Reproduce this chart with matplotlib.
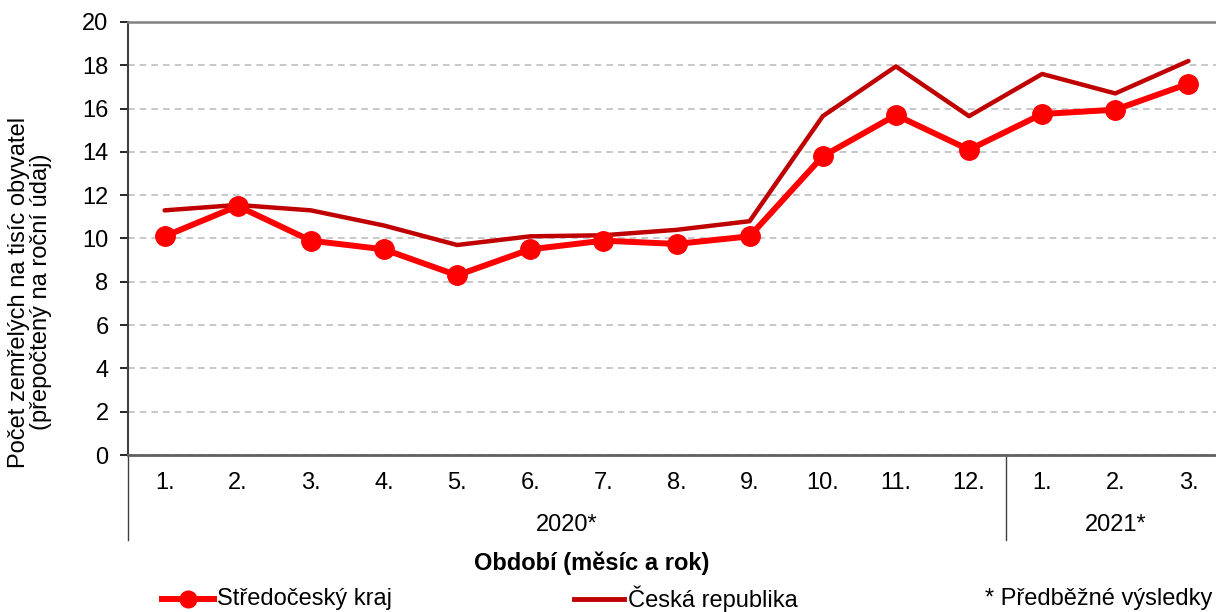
import matplotlib
matplotlib.use('Agg')
from matplotlib import pyplot as plt
from matplotlib.lines import Line2D

plt.rcParams['font.family'] = ['Liberation Sans', 'DejaVu Sans']

months = ['1.', '2.', '3.', '4.', '5.', '6.', '7.', '8.', '9.', '10.', '11.', '12.', '1.', '2.', '3.']
years = ['2020*', '2021*']
year_counts = [12, 3]
stredocesky = [10.1, 11.5, 9.9, 9.5, 8.3, 9.5, 9.9, 9.75, 10.1, 13.8, 15.7, 14.1, 15.75, 15.95, 17.15]
cr = [11.3, 11.55, 11.3, 10.6, 9.7, 10.1, 10.15, 10.4, 10.8, 15.65, 17.95, 15.65, 17.6, 16.7, 18.2]

fs = 17
fig = plt.figure(figsize=(12.16, 6.12), dpi=100)
ax = fig.add_axes([128/1216, 1-455/612, 1097/1216, 433/612])

x = list(range(len(months)))
ax.plot(x, cr, color='#C00000', lw=3.2, solid_capstyle='round', zorder=3)
ax.plot(x, stredocesky, color='#FF0000', lw=4.3, marker='o', ms=14, zorder=4)

ax.set_xlim(-0.5, len(months)-0.5)
ax.set_ylim(0, 20)
ax.set_yticks(range(0, 21, 2))
ax.tick_params(axis='y', labelsize=fs, length=6, width=1.2, direction='out', pad=8)
ax.set_xticks(x)
ax.set_xticklabels(months)
ax.tick_params(axis='x', labelsize=fs, length=0, pad=12)
ax.yaxis.grid(True, linestyle=(0, (4, 3)), color='#BFBFBF', lw=1.2)
ax.set_axisbelow(True)

ax.spines['right'].set_visible(False)
ax.spines['top'].set_color('#808080')
ax.spines['top'].set_linewidth(1.8)
ax.spines['left'].set_color('#404040')
ax.spines['left'].set_linewidth(1.5)
ax.spines['bottom'].set_color('#606060')
ax.spines['bottom'].set_linewidth(2)

# second category level (years)
trans = ax.get_xaxis_transform()
ybot = -(540-455)/433
start = -0.5
ax.add_line(Line2D([start, start], [0, ybot], transform=trans, color='#404040', lw=1, clip_on=False))
for yr, n in zip(years, year_counts):
    end = start + n
    ax.text((start+end)/2, -(525-455)/433, yr, transform=trans, ha='center', va='center', fontsize=fs)
    ax.add_line(Line2D([end, end], [0, ybot], transform=trans, color='#404040', lw=1, clip_on=False))
    start = end

fig.text(592/1216, 1-563/612, 'Období (měsíc a rok)', ha='center', va='center', fontsize=fs, fontweight='bold')
fig.text(30/1216, 1-292/612, 'Počet zemřelých na tisíc obyvatel\n(přepočtený na roční údaj)',
         rotation=90, ha='center', va='center', fontsize=fs, linespacing=1.0)

# legend row
ly = 1-599/612
fig.add_artist(Line2D([162/1216, 214/1216], [ly, ly], color='#FF0000', lw=4.3))
fig.add_artist(Line2D([188/1216], [ly], color='#FF0000', marker='o', ms=12, lw=0))
fig.text(217/1216, ly, 'Středočeský kraj', ha='left', va='center', fontsize=fs)
fig.add_artist(Line2D([574/1216, 624/1216], [ly, ly], color='#C00000', lw=3.5))
fig.text(628/1216, ly, 'Česká republika', ha='left', va='center', fontsize=fs)
fig.text(1212/1216, ly, '* Předběžné výsledky', ha='right', va='center', fontsize=fs)

fig.savefig('out.png', dpi=100)
